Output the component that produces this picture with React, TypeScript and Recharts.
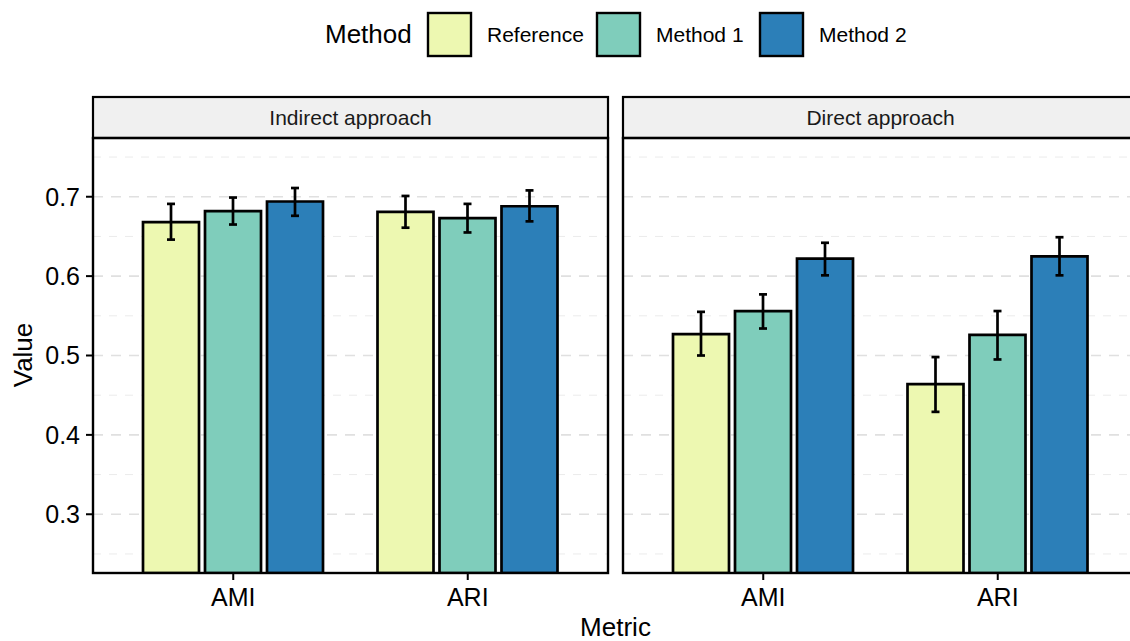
import { BarChart, Bar, XAxis, YAxis, CartesianGrid, ErrorBar } from 'recharts'

const METRICS = ['AMI', 'ARI']
const METHODS = ['Reference', 'Method 1', 'Method 2']
const COLORS = ['#edf8b1', '#7fcdbb', '#2c7fb8']
const FACETS = ['Indirect approach', 'Direct approach']

// per metric -> per method
const INDIRECT_MEAN = [[0.668, 0.682, 0.694], [0.681, 0.673, 0.688]]
const INDIRECT_LOW = [[0.646, 0.665, 0.676], [0.661, 0.655, 0.669]]
const INDIRECT_HIGH = [[0.691, 0.699, 0.711], [0.701, 0.691, 0.708]]

const DIRECT_MEAN = [[0.527, 0.556, 0.622], [0.464, 0.526, 0.625]]
const DIRECT_LOW = [[0.500, 0.534, 0.601], [0.429, 0.495, 0.601]]
const DIRECT_HIGH = [[0.555, 0.577, 0.642], [0.498, 0.556, 0.649]]

const Y_TICKS = [0.3, 0.4, 0.5, 0.6, 0.7]
const Y_MINOR = [0.25, 0.35, 0.45, 0.55, 0.65, 0.75]
const Y_DOMAIN = [0.226, 0.774]

const W = 1130
const H = 641
const PANEL_TOP = 138
const PANEL_BOTTOM = 573
const PANEL_W = 515
const PANEL_LEFTS = [93, 623]
const STRIP_H = 41
const XAXIS_H = 45
const FONT = '"Liberation Sans", Arial, sans-serif'

// note: don't use "ref" as a data key, recharts spreads row fields into props
const keys = ['vRef', 'vM1', 'vM2']

function buildRows(mean: number[][], low: number[][], high: number[][]) {
  return METRICS.map((metric, i) => {
    const row: any = { metric }
    keys.forEach((k, j) => {
      row[k] = mean[i][j]
      row[k + 'Err'] = [mean[i][j] - low[i][j], high[i][j] - mean[i][j]]
    })
    return row
  })
}

const tickStyle = { fontSize: 25, fill: '#000', fontFamily: FONT }

function Panel({ data, showY }: { data: any[]; showY: boolean }) {
  const left = showY ? PANEL_LEFTS[0] : 0
  return (
    <BarChart
      width={left + PANEL_W}
      height={H}
      data={data}
      margin={{ top: PANEL_TOP, right: 0, left: 0, bottom: H - PANEL_BOTTOM - XAXIS_H }}
      barSize={56}
      barGap={6}
    >
      <CartesianGrid horizontal vertical={false} horizontalValues={Y_MINOR} stroke="#ebebeb" strokeWidth={1} strokeDasharray="8 8" />
      <CartesianGrid horizontal vertical={false} horizontalValues={Y_TICKS} stroke="#e0e0e0" strokeWidth={1.7} strokeDasharray="10 8" />
      <XAxis
        dataKey="metric"
        height={XAXIS_H}
        padding={{ left: 23, right: 23 }}
        axisLine={false}
        tickSize={7}
        tickMargin={8}
        tickLine={{ stroke: '#000', strokeWidth: 2 }}
        tick={tickStyle}
      />
      <YAxis
        hide={!showY}
        width={PANEL_LEFTS[0]}
        domain={Y_DOMAIN}
        allowDataOverflow
        ticks={Y_TICKS}
        tickFormatter={(v: number) => v.toFixed(1)}
        axisLine={false}
        tickSize={7}
        tickMargin={6}
        tickLine={{ stroke: '#000', strokeWidth: 2 }}
        tick={tickStyle}
      />
      {keys.map((k, j) => (
        <Bar key={k} dataKey={k} fill={COLORS[j]} stroke="#000" strokeWidth={2.7} isAnimationActive={false}>
          <ErrorBar dataKey={k + 'Err'} width={4} stroke="#000" strokeWidth={2.7} />
        </Bar>
      ))}
    </BarChart>
  )
}

export default function App() {
  const indirect = buildRows(INDIRECT_MEAN, INDIRECT_LOW, INDIRECT_HIGH)
  const direct = buildRows(DIRECT_MEAN, DIRECT_LOW, DIRECT_HIGH)
  const legendKeyX = [428, 597, 760]

  return (
    <div style={{ position: 'absolute', left: 0, top: 0, width: W, height: H, overflow: 'hidden', background: '#fff', fontFamily: FONT }}>
      <div style={{ position: 'absolute', left: 0, top: 0 }}>
        <Panel data={indirect} showY />
      </div>
      <div style={{ position: 'absolute', left: PANEL_LEFTS[1], top: 0 }}>
        <Panel data={direct} showY={false} />
      </div>
      <svg width={W} height={H} style={{ position: 'absolute', left: 0, top: 0, pointerEvents: 'none' }}>
        {FACETS.map((f, i) => (
          <g key={f}>
            <rect x={PANEL_LEFTS[i]} y={PANEL_TOP - STRIP_H} width={PANEL_W} height={STRIP_H} fill="#f0f0f0" stroke="#000" strokeWidth={2.2} />
            <text x={PANEL_LEFTS[i] + PANEL_W / 2} y={PANEL_TOP - STRIP_H / 2 + 7.5} textAnchor="middle" fontSize={21} fill="#1a1a1a" fontFamily={FONT}>
              {f}
            </text>
            <rect x={PANEL_LEFTS[i]} y={PANEL_TOP} width={PANEL_W} height={PANEL_BOTTOM - PANEL_TOP} fill="none" stroke="#000" strokeWidth={2.4} />
          </g>
        ))}
        <text x={325} y={43} fontSize={26} fill="#000" fontFamily={FONT}>Method</text>
        {METHODS.map((m, j) => (
          <g key={m}>
            <rect x={legendKeyX[j]} y={13} width={43} height={43} fill={COLORS[j]} stroke="#000" strokeWidth={2.4} />
            <text x={legendKeyX[j] + 59} y={41.5} fontSize={21} fill="#000" fontFamily={FONT}>{m}</text>
          </g>
        ))}
        <text x={31.5} y={355} transform="rotate(-90 31.5 355)" textAnchor="middle" fontSize={26} fill="#000" fontFamily={FONT}>Value</text>
        <text x={615.5} y={636} textAnchor="middle" fontSize={26} fill="#000" fontFamily={FONT}>Metric</text>
      </svg>
    </div>
  )
}
